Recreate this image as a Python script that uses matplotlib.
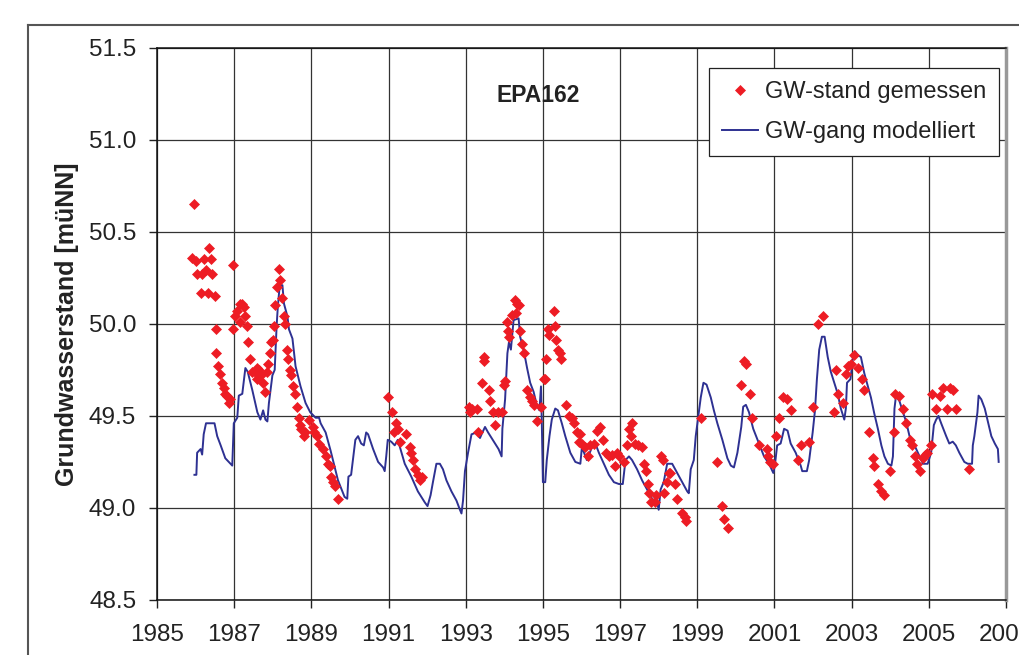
import matplotlib
matplotlib.use("Agg")
import matplotlib.pyplot as plt
from matplotlib.lines import Line2D

plt.rcParams['font.family'] = ['Liberation Sans', 'DejaVu Sans']

# GW-gang modelliert (Jahr, Wasserstand)
model_year = [
    1985.97, 1986.02, 1986.04, 1986.13, 1986.17, 1986.21, 1986.27, 1986.49, 1986.56, 1986.65,
    1986.77, 1986.95, 1986.99, 1987.08, 1987.12, 1987.21, 1987.29, 1987.35, 1987.47, 1987.60,
    1987.68, 1987.75, 1987.81, 1987.86, 1987.90, 1987.99, 1988.05, 1988.10, 1988.13, 1988.18,
    1988.25, 1988.29, 1988.38, 1988.42, 1988.51, 1988.59, 1988.72, 1988.85, 1988.97, 1989.11,
    1989.20, 1989.24, 1989.37, 1989.50, 1989.69, 1989.86, 1989.93, 1989.96, 1990.03, 1990.14,
    1990.21, 1990.29, 1990.36, 1990.42, 1990.47, 1990.60, 1990.73, 1990.86, 1990.90, 1990.94,
    1990.98, 1991.07, 1991.16, 1991.24, 1991.42, 1991.59, 1991.76, 1991.94, 1992.01, 1992.09,
    1992.15, 1992.24, 1992.33, 1992.41, 1992.50, 1992.63, 1992.76, 1992.85, 1992.89, 1992.93,
    1992.98, 1993.06, 1993.15, 1993.28, 1993.37, 1993.41, 1993.50, 1993.58, 1993.76, 1993.85,
    1993.93, 1993.95, 1994.02, 1994.08, 1994.12, 1994.17, 1994.24, 1994.37, 1994.41, 1994.50,
    1994.59, 1994.67, 1994.76, 1994.84, 1994.91, 1994.95, 1994.97, 1995.00, 1995.06, 1995.10,
    1995.17, 1995.23, 1995.32, 1995.39, 1995.49, 1995.58, 1995.71, 1995.84, 1995.97, 1996.01,
    1996.14, 1996.27, 1996.36, 1996.45, 1996.58, 1996.71, 1996.84, 1996.97, 1997.07, 1997.14,
    1997.23, 1997.31, 1997.44, 1997.57, 1997.70, 1997.83, 1997.96, 1998.00, 1998.05, 1998.13,
    1998.22, 1998.35, 1998.48, 1998.61, 1998.74, 1998.78, 1998.83, 1998.91, 1998.96, 1999.04,
    1999.09, 1999.16, 1999.24, 1999.35, 1999.43, 1999.52, 1999.65, 1999.78, 1999.87, 1999.95,
    2000.04, 2000.14, 2000.19, 2000.26, 2000.34, 2000.45, 2000.60, 2000.73, 2000.86, 2000.97,
    2001.01, 2001.07, 2001.16, 2001.25, 2001.34, 2001.42, 2001.55, 2001.68, 2001.72, 2001.84,
    2001.90, 2001.99, 2002.05, 2002.10, 2002.16, 2002.23, 2002.30, 2002.38, 2002.46, 2002.55,
    2002.64, 2002.72, 2002.81, 2002.85, 2002.88, 2002.97, 2003.03, 2003.09, 2003.16, 2003.24,
    2003.33, 2003.42, 2003.50, 2003.59, 2003.68, 2003.77, 2003.85, 2003.94, 2004.03, 2004.07,
    2004.11, 2004.15, 2004.24, 2004.33, 2004.41, 2004.50, 2004.63, 2004.76, 2004.85, 2004.97,
    2005.06, 2005.13, 2005.19, 2005.25, 2005.32, 2005.45, 2005.53, 2005.62, 2005.70, 2005.79,
    2005.92, 2006.01, 2006.12, 2006.14, 2006.18, 2006.26, 2006.29, 2006.36, 2006.45, 2006.53,
    2006.62, 2006.71, 2006.79, 2006.81,
]
model_level = [
    49.18, 49.18, 49.30, 49.32, 49.29, 49.40, 49.46, 49.46, 49.39, 49.34,
    49.27, 49.23, 49.46, 49.49, 49.61, 49.62, 49.76, 49.74, 49.64, 49.52,
    49.48, 49.53, 49.48, 49.47, 49.57, 49.72, 49.75, 49.99, 50.09, 50.21,
    50.21, 50.11, 50.04, 49.97, 49.92, 49.77, 49.66, 49.57, 49.52, 49.49,
    49.49, 49.46, 49.41, 49.31, 49.15, 49.06, 49.05, 49.17, 49.18, 49.37,
    49.39, 49.35, 49.34, 49.41, 49.40, 49.32, 49.25, 49.22, 49.20, 49.28,
    49.37, 49.36, 49.34, 49.37, 49.24, 49.17, 49.09, 49.03, 49.01, 49.07,
    49.14, 49.24, 49.24, 49.21, 49.15, 49.09, 49.04, 48.99, 48.97, 49.04,
    49.20, 49.30, 49.40, 49.41, 49.38, 49.40, 49.44, 49.41, 49.35, 49.32,
    49.28, 49.43, 49.59, 49.84, 49.90, 49.86, 50.02, 50.03, 49.93, 49.86,
    49.76, 49.68, 49.63, 49.56, 49.53, 49.66, 49.48, 49.14, 49.14, 49.26,
    49.39, 49.48, 49.54, 49.53, 49.46, 49.39, 49.30, 49.25, 49.24, 49.33,
    49.26, 49.33, 49.35, 49.30, 49.24, 49.18, 49.14, 49.13, 49.13, 49.26,
    49.28, 49.26, 49.21, 49.15, 49.10, 49.05, 49.03, 48.99, 49.10, 49.14,
    49.24, 49.24, 49.19, 49.14, 49.09, 49.08, 49.21, 49.26, 49.39, 49.52,
    49.60, 49.68, 49.67, 49.60, 49.53, 49.46, 49.37, 49.27, 49.23, 49.22,
    49.30, 49.44, 49.55, 49.56, 49.52, 49.43, 49.35, 49.28, 49.24, 49.19,
    49.23, 49.34, 49.35, 49.43, 49.42, 49.35, 49.30, 49.23, 49.20, 49.20,
    49.26, 49.41, 49.53, 49.70, 49.86, 49.93, 49.93, 49.82, 49.74, 49.68,
    49.62, 49.54, 49.48, 49.54, 49.68, 49.70, 49.81, 49.85, 49.83, 49.82,
    49.73, 49.66, 49.60, 49.51, 49.43, 49.34, 49.28, 49.24, 49.23, 49.28,
    49.54, 49.61, 49.58, 49.52, 49.47, 49.39, 49.34, 49.28, 49.24, 49.24,
    49.30, 49.45, 49.48, 49.50, 49.46, 49.39, 49.35, 49.36, 49.34, 49.30,
    49.25, 49.24, 49.24, 49.34, 49.39, 49.52, 49.61, 49.59, 49.54, 49.47,
    49.39, 49.35, 49.32, 49.25,
]

# GW-stand gemessen (Jahr, Wasserstand)
meas_year = [
    1985.97, 1985.91, 1986.00, 1986.04, 1986.13, 1986.17, 1986.21, 1986.26, 1986.32, 1986.34,
    1986.39, 1986.43, 1986.50, 1986.54, 1986.54, 1986.58, 1986.63, 1986.69, 1986.73, 1986.77,
    1986.82, 1986.86, 1986.90, 1986.97, 1986.97, 1987.01, 1987.08, 1987.15, 1987.21, 1987.25,
    1987.29, 1987.16, 1987.32, 1987.35, 1987.41, 1987.47, 1987.53, 1987.60, 1987.64, 1987.60,
    1987.70, 1987.75, 1987.79, 1987.84, 1987.88, 1987.93, 1987.96, 1988.00, 1988.03, 1988.07,
    1988.12, 1988.17, 1988.20, 1988.25, 1988.29, 1988.32, 1988.36, 1988.40, 1988.45, 1988.48,
    1988.53, 1988.57, 1988.64, 1988.68, 1988.71, 1988.74, 1988.81, 1988.83, 1988.94, 1989.03,
    1989.07, 1989.14, 1989.20, 1989.29, 1989.37, 1989.43, 1989.47, 1989.51, 1989.56, 1989.62,
    1989.70, 1990.98, 1991.09, 1991.19, 1991.24, 1991.13, 1991.29, 1991.46, 1991.55, 1991.59,
    1991.63, 1991.69, 1991.76, 1991.81, 1991.87, 1993.11, 1993.08, 1993.15, 1993.28, 1993.32,
    1993.41, 1993.48, 1993.48, 1993.60, 1993.64, 1993.71, 1993.77, 1993.84, 1993.93, 1993.99,
    1994.03, 1994.08, 1994.10, 1994.13, 1994.19, 1994.28, 1994.32, 1994.37, 1994.30, 1994.41,
    1994.47, 1994.52, 1994.60, 1994.67, 1994.71, 1994.78, 1994.84, 1994.95, 1995.03, 1995.06,
    1995.09, 1995.12, 1995.17, 1995.28, 1995.32, 1995.34, 1995.39, 1995.45, 1995.48, 1995.61,
    1995.67, 1995.75, 1995.80, 1995.88, 1995.97, 1995.93, 1996.01, 1996.10, 1996.17, 1996.23,
    1996.32, 1996.40, 1996.49, 1996.55, 1996.64, 1996.71, 1996.80, 1996.86, 1996.92, 1996.98,
    1997.10, 1997.18, 1997.23, 1997.31, 1997.27, 1997.38, 1997.46, 1997.57, 1997.63, 1997.68,
    1997.72, 1997.76, 1997.81, 1997.90, 1997.93, 1998.05, 1998.11, 1998.15, 1998.22, 1998.26,
    1998.29, 1998.41, 1998.48, 1998.61, 1998.67, 1998.72, 1999.09, 1999.50, 1999.65, 1999.69,
    1999.80, 2000.13, 2000.21, 2000.27, 2000.37, 2000.43, 2000.60, 2000.80, 2000.84, 2000.89,
    2000.95, 2001.03, 2001.13, 2001.21, 2001.32, 2001.42, 2001.60, 2001.68, 2001.90, 2002.00,
    2002.12, 2002.27, 2002.55, 2002.59, 2002.64, 2002.77, 2002.85, 2002.90, 2002.99, 2003.07,
    2003.17, 2003.26, 2003.31, 2003.46, 2003.55, 2003.59, 2003.68, 2003.75, 2003.83, 2004.00,
    2004.09, 2004.13, 2004.24, 2004.33, 2004.41, 2004.50, 2004.56, 2004.63, 2004.70, 2004.78,
    2004.85, 2004.90, 2004.96, 2005.06, 2005.09, 2005.19, 2005.28, 2005.36, 2005.48, 2005.54,
    2005.62, 2005.71, 2006.04,
]
meas_level = [
    50.65, 50.36, 50.34, 50.27, 50.17, 50.27, 50.35, 50.29, 50.17, 50.41,
    50.35, 50.27, 50.15, 49.97, 49.84, 49.77, 49.73, 49.68, 49.65, 49.62,
    49.61, 49.57, 49.59, 50.32, 49.97, 50.04, 50.07, 50.11, 50.11, 50.09,
    50.04, 50.01, 49.99, 49.90, 49.81, 49.74, 49.74, 49.76, 49.75, 49.70,
    49.72, 49.68, 49.63, 49.74, 49.78, 49.84, 49.90, 49.91, 49.99, 50.10,
    50.20, 50.30, 50.24, 50.14, 50.04, 50.00, 49.86, 49.81, 49.75, 49.72,
    49.66, 49.62, 49.55, 49.49, 49.45, 49.43, 49.39, 49.41, 49.48, 49.44,
    49.41, 49.39, 49.35, 49.32, 49.28, 49.24, 49.23, 49.17, 49.14, 49.12,
    49.05, 49.60, 49.52, 49.46, 49.43, 49.41, 49.36, 49.40, 49.33, 49.30,
    49.26, 49.21, 49.18, 49.15, 49.17, 49.52, 49.55, 49.54, 49.54, 49.41,
    49.68, 49.82, 49.80, 49.64, 49.58, 49.52, 49.45, 49.52, 49.52, 49.67,
    49.69, 50.01, 49.96, 49.93, 50.05, 50.13, 50.11, 50.10, 50.06, 49.96,
    49.89, 49.84, 49.64, 49.60, 49.58, 49.56, 49.47, 49.55, 49.70, 49.70,
    49.81, 49.97, 49.94, 50.07, 49.99, 49.91, 49.86, 49.84, 49.81, 49.56,
    49.50, 49.49, 49.46, 49.41, 49.40, 49.36, 49.35, 49.33, 49.28, 49.34,
    49.35, 49.42, 49.44, 49.37, 49.30, 49.28, 49.29, 49.23, 49.30, 49.28,
    49.25, 49.34, 49.43, 49.46, 49.39, 49.35, 49.34, 49.33, 49.24, 49.20,
    49.13, 49.08, 49.03, 49.03, 49.07, 49.28, 49.26, 49.08, 49.14, 49.19,
    49.19, 49.13, 49.05, 48.97, 48.95, 48.93, 49.49, 49.25, 49.01, 48.94,
    48.89, 49.67, 49.80, 49.78, 49.62, 49.49, 49.34, 49.32, 49.28, 49.25,
    49.24, 49.39, 49.49, 49.60, 49.59, 49.53, 49.26, 49.34, 49.36, 49.55,
    50.00, 50.04, 49.52, 49.75, 49.62, 49.57, 49.73, 49.77, 49.78, 49.83,
    49.76, 49.70, 49.64, 49.41, 49.27, 49.23, 49.13, 49.09, 49.07, 49.20,
    49.41, 49.62, 49.61, 49.54, 49.46, 49.37, 49.34, 49.28, 49.24, 49.20,
    49.27, 49.29, 49.30, 49.34, 49.62, 49.54, 49.61, 49.65, 49.54, 49.65,
    49.64, 49.54, 49.21,
]

x_ticks = list(range(1985, 2008, 2))
y_ticks = [48.5, 49.0, 49.5, 50.0, 50.5, 51.0, 51.5]

fig = plt.figure(figsize=(10.19, 6.55), dpi=100)
ax = fig.add_axes([157 / 1019, 55 / 655, 849 / 1019, 552.3 / 655])

ax.plot(model_year, model_level, color='#2E3192', lw=1.4, label='GW-gang modelliert', zorder=3)
ax.plot(meas_year, meas_level, ls='none', marker='D', ms=5, color='#ED1C24',
        mec='#ED1C24', mew=0.5, label='GW-stand gemessen', zorder=4)

ax.set_xlim(1985, 2007)
ax.set_ylim(48.5, 51.5)
ax.set_xticks(x_ticks)
ax.set_yticks(y_ticks)
ax.set_yticklabels(['%.1f' % v for v in y_ticks])
ax.tick_params(axis='both', direction='out', length=6, width=1, labelsize=17.5,
               colors='#222222')
ax.tick_params(axis='y', pad=9)
ax.tick_params(axis='x', pad=11)
ax.grid(True, color='#333333', lw=0.9)
ax.set_axisbelow(True)

for side in ['left', 'bottom', 'top']:
    ax.spines[side].set_color('#111111')
    ax.spines[side].set_linewidth(1.1)
ax.spines['right'].set_color('#999999')
ax.spines['right'].set_linewidth(2.5)

ax.set_ylabel('Grundwasserstand [müNN]', fontsize=18, fontweight='bold', color='#222222')
ax.yaxis.set_label_coords(-0.092, 0.5)

ax.text(0.449, 0.914, 'EPA162', transform=ax.transAxes, ha='center', va='center',
        fontsize=16.5, fontweight='bold', color='#222222')

handles, labels = ax.get_legend_handles_labels()
leg = ax.legend(handles[::-1], labels[::-1], loc='upper right',
                bbox_to_anchor=(0.9918, 0.963), borderaxespad=0, fontsize=17,
                frameon=True, fancybox=False, framealpha=1, edgecolor='#222222',
                handlelength=1.5, handletextpad=0.3, labelspacing=0.75, borderpad=0.55)
leg.get_frame().set_linewidth(0.9)
for t in leg.get_texts():
    t.set_color('#222222')

# outer frame of the original figure (cut off at right and bottom)
fig.add_artist(Line2D([28 / 1019, 1.0], [1 - 24.5 / 655, 1 - 24.5 / 655],
                      transform=fig.transFigure, color='#555555', lw=1.5))
fig.add_artist(Line2D([28 / 1019, 28 / 1019], [0.0, 1 - 24.5 / 655],
                      transform=fig.transFigure, color='#555555', lw=1.5))

fig.savefig('out.png', dpi=100)
